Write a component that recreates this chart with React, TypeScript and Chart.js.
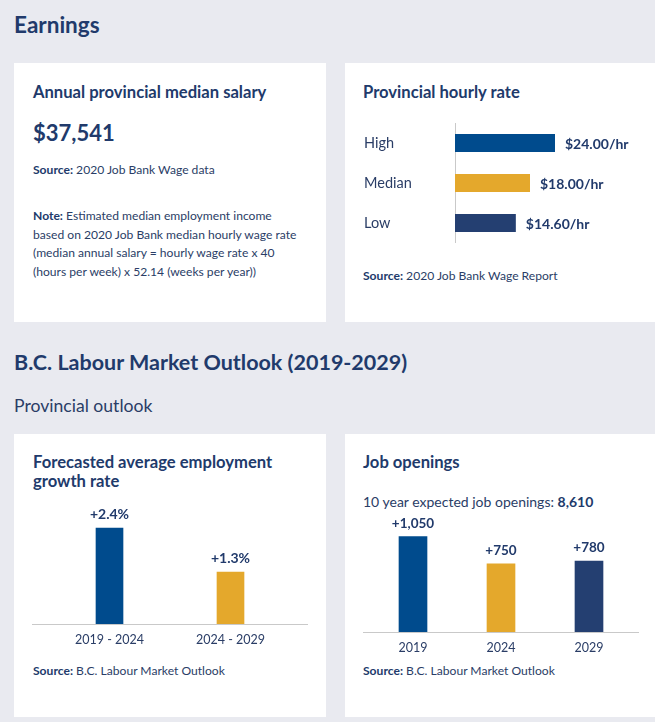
import React, { useEffect, useRef } from "react";
import { Chart, registerables } from "chart.js";

Chart.register(...registerables);

const FONT = "Lato, 'Open Sans', sans-serif";
const NAVY = "#213a6b";
const TEXT = "#2a3d66";
const BG = "#e9eaf0";
const BLUE = "#004b8d";
const GOLD = "#e4a82c";
const DARK = "#243f71";
const AXIS = "#c9c9c9";

// Provincial hourly rate
const hourlyCategories = ["High", "Median", "Low"];
const hourlyValues = [24.0, 18.0, 14.6];
const hourlyColors = [BLUE, GOLD, DARK];

// Forecasted average employment growth rate
const growthCategories = ["2019 - 2024", "2024 - 2029"];
const growthValues = [2.4, 1.3];
const growthColors = [BLUE, GOLD];

// Job openings
const jobYears = ["2019", "2024", "2029"];
const jobValues = [1050, 750, 780];
const jobColors = [BLUE, GOLD, DARK];
const jobTotal = 8610;

const medianSalary = 37541;

function valueLabels(fmt: (v: number) => string, horizontal: boolean, size: number) {
  return {
    id: "valueLabels",
    afterDatasetsDraw(chart: any) {
      const ctx = chart.ctx;
      const meta = chart.getDatasetMeta(0);
      const data = chart.data.datasets[0].data;
      ctx.save();
      ctx.fillStyle = NAVY;
      ctx.font = `bold ${size}px ${FONT}`;
      meta.data.forEach((el: any, i: number) => {
        const v = data[i];
        if (horizontal) {
          ctx.textAlign = "left";
          ctx.textBaseline = "middle";
          ctx.fillText(fmt(v), el.x + 10, el.y + 1);
        } else {
          ctx.textAlign = "center";
          ctx.textBaseline = "alphabetic";
          ctx.fillText(fmt(v), el.x, el.y - 9);
        }
      });
      ctx.restore();
    },
  };
}

const baselinePlugin = {
  id: "baseline",
  beforeDatasetsDraw(chart: any) {
    const ctx = chart.ctx;
    const y = Math.round(chart.scales.y.getPixelForValue(0)) + 0.5;
    ctx.save();
    ctx.strokeStyle = AXIS;
    ctx.lineWidth = 1;
    ctx.beginPath();
    ctx.moveTo(0, y);
    ctx.lineTo(chart.width, y);
    ctx.stroke();
    ctx.restore();
  },
};

function ChartBox({ config, left, top, width, height }: any) {
  const ref = useRef<HTMLCanvasElement>(null);
  useEffect(() => {
    const chart = new Chart(ref.current as HTMLCanvasElement, config());
    return () => chart.destroy();
  }, []);
  return (
    <canvas
      ref={ref}
      width={width}
      height={height}
      style={{ position: "absolute", left, top, width, height }}
    />
  );
}

function T({ x, bl, size, bold, children, lh, color }: any) {
  const lineH = lh || size * 1.2;
  const top = bl - 0.987 * size - (lineH - 1.2 * size) / 2;
  return (
    <div
      style={{
        position: "absolute",
        left: x,
        top,
        fontFamily: FONT,
        fontSize: size,
        fontWeight: bold ? 700 : 400,
        lineHeight: `${lineH}px`,
        color: color || (bold ? NAVY : TEXT),
        whiteSpace: "nowrap",
      }}
    >
      {children}
    </div>
  );
}

function Card({ left, top, width, height }: any) {
  return <div style={{ position: "absolute", left, top, width, height, background: "#ffffff" }} />;
}

const hourlyConfig = () => ({
  type: "bar",
  data: {
    labels: hourlyCategories,
    datasets: [
      { data: hourlyValues, backgroundColor: hourlyColors, barPercentage: 0.45, categoryPercentage: 1 },
    ],
  },
  options: {
    indexAxis: "y",
    animation: false,
    responsive: false,
    maintainAspectRatio: false,
    layout: { padding: 0 },
    plugins: { legend: { display: false }, tooltip: { enabled: false } },
    scales: {
      x: { display: false, min: 0, max: 48 },
      y: {
        grid: { display: false, drawTicks: false },
        border: { display: true, color: AXIS, width: 1 },
        ticks: { crossAlign: "far", color: TEXT, font: { family: FONT, size: 14.5 }, padding: 0 },
        afterFit: (s: any) => {
          s.width = 91;
          s.paddingTop = 0;
          s.paddingBottom = 0;
        },
      },
    },
  },
  plugins: [valueLabels((v) => `$${v.toFixed(2)}/hr`, true, 14)],
});

const verticalConfig = (
  labels: string[],
  values: number[],
  colors: string[],
  max: number,
  side: number,
  thickness: number,
  fmt: (v: number) => string,
  labelSize: number
) => () => ({
  type: "bar",
  data: {
    labels,
    datasets: [{ data: values, backgroundColor: colors, barThickness: thickness }],
  },
  options: {
    animation: false,
    responsive: false,
    maintainAspectRatio: false,
    layout: { padding: { top: 4, left: side, right: side, bottom: 0 } },
    plugins: { legend: { display: false }, tooltip: { enabled: false } },
    scales: {
      y: { display: false, min: 0, max },
      x: {
        grid: { display: false, drawTicks: false },
        border: { display: false },
        ticks: { color: TEXT, font: { family: FONT, size: 12.5 }, padding: 8 },
        afterFit: (s: any) => {
          s.height = 30;
        },
      },
    },
  },
  plugins: [baselinePlugin, valueLabels(fmt, false, labelSize)],
});

const growthConfig = verticalConfig(growthCategories, growthValues, growthColors, 3, 17, 27, (v) => `+${v.toFixed(1)}%`, 14);
const jobsConfig = verticalConfig(jobYears, jobValues, jobColors, 1300, 6, 28, (v) => `+${v.toLocaleString("en-US")}`, 13.5);

export default function App() {
  const body = 12.1;
  return (
    <div
      style={{
        position: "absolute",
        left: 0,
        top: 0,
        width: 655,
        height: 722,
        background: BG,
        overflow: "hidden",
      }}
    >
      <T x={14} bl={33} size={22.5} bold>
        Earnings
      </T>

      <Card left={14} top={63} width={312} height={259} />
      <Card left={345} top={63} width={310} height={259} />
      <Card left={14} top={434} width={312} height={283} />
      <Card left={345} top={434} width={310} height={283} />

      <T x={33} bl={99} size={16.6} bold>
        Annual provincial median salary
      </T>
      <T x={33} bl={142} size={22} bold>
        ${medianSalary.toLocaleString("en-US")}
      </T>
      <T x={33} bl={174.5} size={body}>
        <b style={{ color: NAVY }}>Source:</b> 2020 Job Bank Wage data
      </T>
      <T x={33} bl={221} size={body} lh={18.7}>
        <b style={{ color: NAVY }}>Note:</b> Estimated median employment income
        <br />
        based on 2020 Job Bank median hourly wage rate
        <br />
        (median annual salary = hourly wage rate x 40
        <br />
        (hours per week) x 52.14 (weeks per year))
      </T>

      <T x={363} bl={99} size={16.6} bold>
        Provincial hourly rate
      </T>
      <ChartBox config={hourlyConfig} left={364} top={123} width={291} height={120} />
      <T x={363} bl={281} size={body}>
        <b style={{ color: NAVY }}>Source:</b> 2020 Job Bank Wage Report
      </T>

      <T x={14} bl={371} size={21.5} bold>
        B.C. Labour Market Outlook (2019-2029)
      </T>
      <T x={14} bl={412} size={17.6}>
        Provincial outlook
      </T>

      <T x={33} bl={469} size={16.6} bold lh={18.7}>
        Forecasted average employment
        <br />
        growth rate
      </T>
      <ChartBox config={growthConfig} left={32} top={500} width={276} height={154} />
      <T x={33} bl={675.5} size={body}>
        <b style={{ color: NAVY }}>Source:</b> B.C. Labour Market Outlook
      </T>

      <T x={363} bl={469} size={16.6} bold>
        Job openings
      </T>
      <T x={363} bl={508} size={14}>
        10 year expected job openings: <b style={{ color: NAVY }}>{jobTotal.toLocaleString("en-US")}</b>
      </T>
      <ChartBox config={jobsConfig} left={363} top={510} width={276} height={152} />
      <T x={363} bl={675.5} size={body}>
        <b style={{ color: NAVY }}>Source:</b> B.C. Labour Market Outlook
      </T>
    </div>
  );
}
